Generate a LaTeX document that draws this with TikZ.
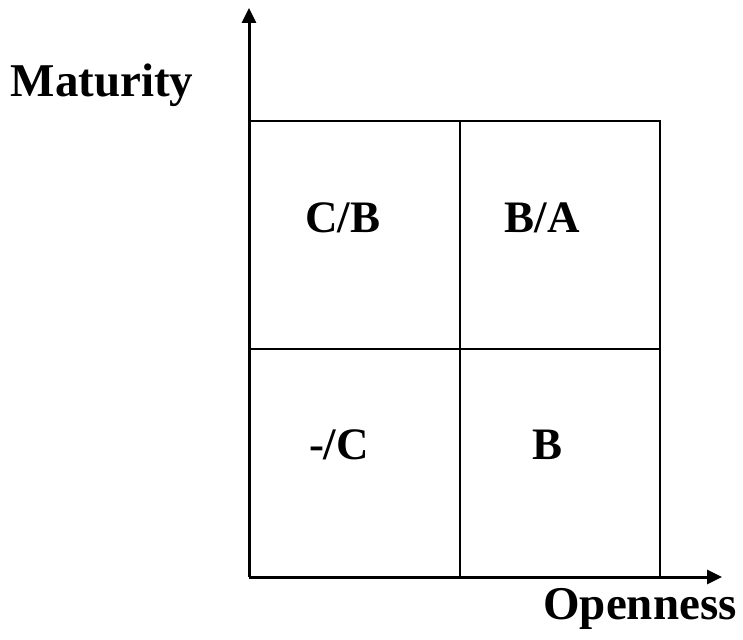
\documentclass[tikz,border=0pt]{standalone}
\usepackage{fontspec}
\setmainfont{Liberation Serif}
\usetikzlibrary{arrows.meta}
\begin{document}
\begin{tikzpicture}[x=1pt,y=-1pt,
  axis/.style={line width=3pt,-{Triangle[length=15pt,width=14pt]}},
  grid/.style={line width=2pt},
  lbl/.style={font=\fontsize{45}{50}\selectfont\bfseries,inner sep=0pt},
  ax/.style={font=\fontsize{47}{52}\selectfont\bfseries,inner sep=0pt}]
\useasboundingbox (0,0) rectangle (743,639);
\coordinate (o) at (249,577);
\coordinate (ytip) at (249,8);
\coordinate (xtip) at (722,577);
\coordinate (tl) at (249,121);
\coordinate (tr) at (660,121);
\coordinate (br) at (660,577);
\coordinate (mt) at (460,121);
\coordinate (mb) at (460,577);
\coordinate (ml) at (249,349);
\coordinate (mr) at (660,349);
\draw[grid] (tl) -- (tr) -- (br);
\draw[grid] (mt) -- (mb);
\draw[grid] (ml) -- (mr);
\draw[axis] (o) -- (ytip);
\draw[axis] (o) -- (xtip);
\node[ax] (mat) at (102,85) {Maturity};
\node[ax] (open) at (640,609) {Openness};
\node[lbl] (cb) at (343,218) {C/B};
\node[lbl] (ba) at (542,218) {B/A};
\node[lbl] (nc) at (339,445) {-/C};
\node[lbl] (b) at (547,445) {B};
\end{tikzpicture}
\end{document}
